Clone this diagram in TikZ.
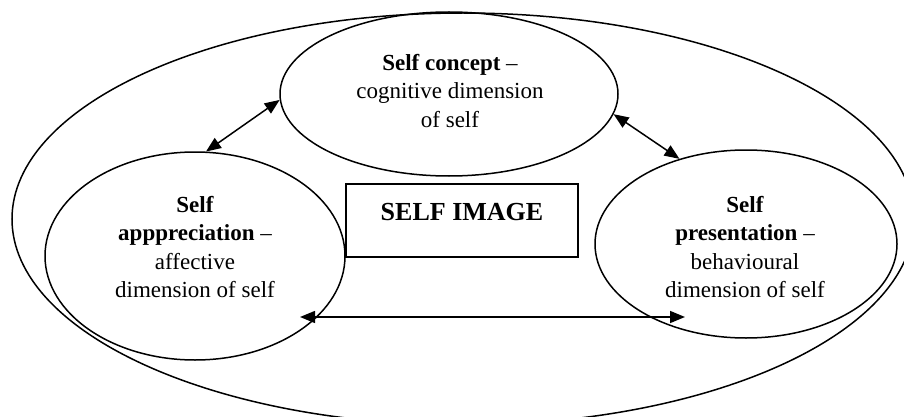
\documentclass[tikz,border=0pt]{standalone}
\usepackage{fontspec}
\setmainfont{Liberation Serif}
\usetikzlibrary{arrows.meta,shapes.geometric}
\tikzset{
  oval/.style={draw, ellipse, line width=1.5pt, inner sep=0pt},
  dimtext/.style={align=center, font=\fontsize{23}{28.5}\selectfont},
  imgbox/.style={draw, line width=1.5pt, minimum width=232pt, minimum height=73pt,
    text height=17pt, text depth=17pt, font=\fontsize{26}{30}\selectfont\bfseries},
  link/.style={{Triangle[length=15pt,width=12pt]}-{Triangle[length=15pt,width=12pt]}, line width=1.5pt},
}
\begin{document}
\begin{tikzpicture}[x=1pt, y=-1pt]
\useasboundingbox (0,0) rectangle (904,417);
% outer ellipse (runs off the page at right and bottom)
\node[oval, minimum width=902pt, minimum height=412pt] (image) at (463,219) {};
% the three dimensions
\node[oval, minimum width=338pt, minimum height=164pt] (concept) at (449,94) {};
\node[oval, minimum width=300pt, minimum height=208pt] (apprec) at (195,256) {};
\node[oval, minimum width=302pt, minimum height=188pt] (present) at (746,244) {};
\node[dimtext] (conceptText) at (450,91) {\textbf{Self concept} --\\cognitive dimension\\of self};
\node[dimtext] (apprecText) at (195,247) {\textbf{Self}\\\textbf{apppreciation} --\\affective\\dimension of self};
\node[dimtext] (presentText) at (745,247) {\textbf{Self}\\\textbf{presentation} --\\behavioural\\dimension of self};
% central box
\node[imgbox] (imageBox) at (462,220.5) {SELF IMAGE};
% links
\coordinate (apprecEnd) at (300,317);
\coordinate (presentEnd) at (685,317);
\draw[link] (apprec.84) -- (concept.182);
\draw[link] (concept.-7) -- (present.128);
\draw[link] (apprecEnd) -- (presentEnd);
\end{tikzpicture}
\end{document}
